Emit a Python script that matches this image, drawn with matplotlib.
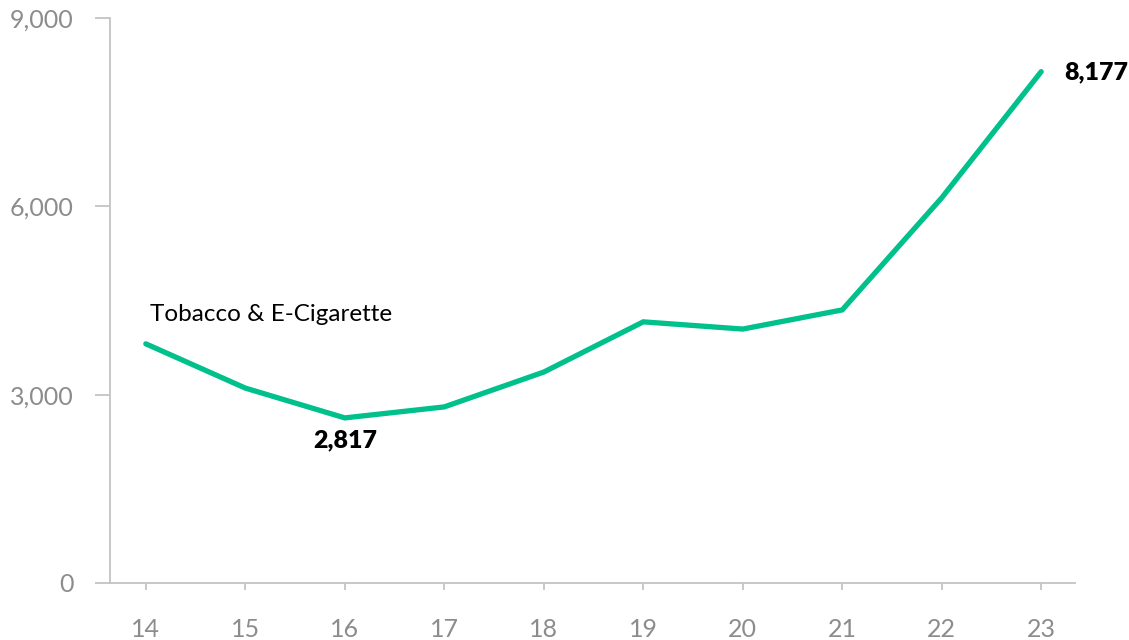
import matplotlib.pyplot as plt
from matplotlib.ticker import FuncFormatter

plt.rcParams['font.family'] = ['Lato', 'DejaVu Sans']

years = [14, 15, 16, 17, 18, 19, 20, 21, 22, 23]
values = [3810, 3105, 2630, 2805, 3360, 4160, 4045, 4350, 6135, 8145]
series_name = 'Tobacco & E-Cigarette'
low_label = '2,817'
high_label = '8,177'

green = '#00c08b'
axis_grey = '#c4c4c4'
text_grey = '#8c8c8c'

fig = plt.figure(figsize=(11.29, 6.4), dpi=100)
ax = fig.add_axes([110/1129, 57/640, 965/1129, 565/640])

ax.plot(years, values, color=green, lw=3.8, solid_capstyle='round', solid_joinstyle='miter')

ax.set_xlim(13.64, 23.34)
ax.set_ylim(0, 9000)
ax.set_xticks(years)
ax.set_yticks([0, 3000, 6000, 9000])
ax.yaxis.set_major_formatter(FuncFormatter(lambda v, p: f'{int(v):,}'))

for s in ['top', 'right']:
    ax.spines[s].set_visible(False)
for s in ['left', 'bottom']:
    ax.spines[s].set_color(axis_grey)
    ax.spines[s].set_linewidth(1.3)

ax.tick_params(axis='y', length=11, width=1.3, color=axis_grey, labelcolor=text_grey,
               labelsize=18, pad=15)
ax.tick_params(axis='x', length=5, width=1.3, color=axis_grey, labelcolor=text_grey,
               labelsize=18, pad=20)

ax.text(years[0] + 0.04, values[0] + 470, series_name, fontsize=17.5, color='black',
        ha='left', va='center')
ax.text(years[2], values[2] - 350, low_label, fontsize=18, fontweight='heavy',
        color='black', ha='center', va='center')
ax.text(years[-1] + 0.23, values[-1] - 10, high_label, fontsize=18, fontweight='heavy',
        color='black', ha='left', va='center')

fig.savefig('out.png', dpi=100)
